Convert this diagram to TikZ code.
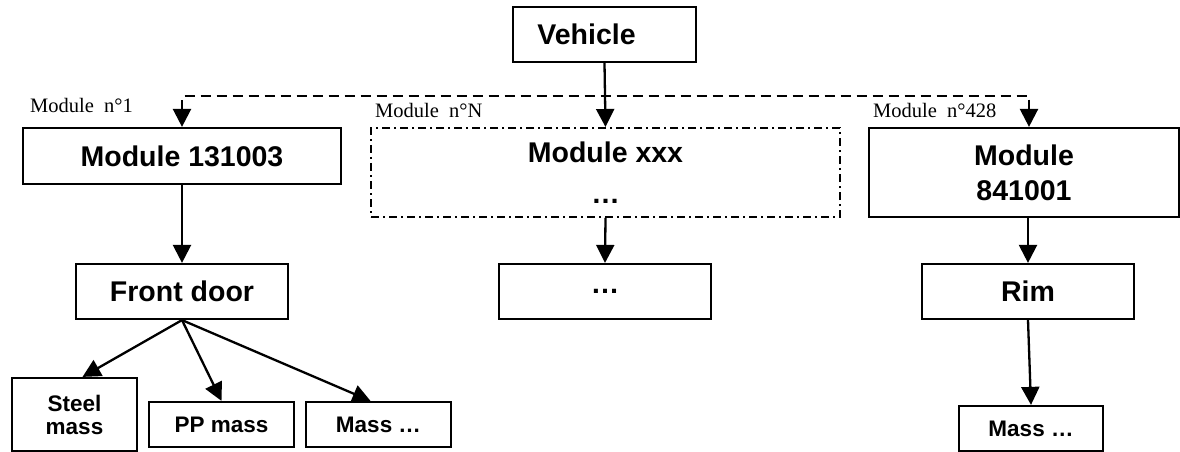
\documentclass[tikz,border=0pt]{standalone}
\usepackage{fontspec}
\setmainfont{Liberation Serif}
\newfontfamily\arialfam{Liberation Sans}
\usetikzlibrary{arrows.meta}

\tikzset{
  box/.style={draw, line width=2.2pt, inner sep=0pt, align=center,
    font=\arialfam\bfseries\fontsize{28.5}{35}\selectfont},
  smallbox/.style={box, font=\arialfam\bfseries\fontsize{22.5}{23}\selectfont},
  dashdotbox/.style={box, line width=2pt, dash pattern=on 8pt off 4pt on 2pt off 4pt},
  tip/.tip={Triangle[length=18pt,width=18pt]},
  link/.style={line width=2.3pt, -tip},
  bus/.style={line width=2.4pt, dash pattern=on 10pt off 6pt, tip-tip},
  tag/.style={anchor=base west, inner sep=0pt, font=\fontsize{20.5}{24}\selectfont}
}

\begin{document}
\begin{tikzpicture}[x=1pt, y=-1pt]
  \useasboundingbox (0,0) rectangle (1180,452);

  % top level
  \node[box, minimum width=183pt, minimum height=55pt] (veh) at (604.5,34.5) {Vehicle\hspace{36pt}};

  % modules
  \node[box, minimum width=318pt, minimum height=56pt] (m1) at (182,156) {Module 131003};
  \node[dashdotbox, minimum width=469pt, minimum height=89pt] (mN) at (605.5,172.5)
    {Module xxx\\[6pt]…};
  \node[box, minimum width=310pt, minimum height=89pt] (m3) at (1024,172.5) {Module\\841001};

  % module labels
  \node[tag] (t1) at (30,112) {Module~~n°1};
  \node[tag] (tN) at (375,117) {Module~~n°N};
  \node[tag] (t3) at (873,117) {Module~~n°428};

  % parts
  \node[box, minimum width=212pt, minimum height=55pt] (fd) at (182,291.5) {Front door};
  \node[box, minimum width=212pt, minimum height=55pt] (dots) at (605,291.5) {…};
  \node[box, minimum width=212pt, minimum height=55pt] (rim) at (1028,291.5) {Rim};

  % masses
  \node[smallbox, minimum width=125pt, minimum height=73pt] (steel) at (74.5,414.5) {Steel\\mass};
  \node[smallbox, minimum width=145pt, minimum height=45pt] (pp) at (221.5,424.5) {PP mass};
  \node[smallbox, minimum width=145pt, minimum height=45pt] (ml) at (378.5,424.5) {Mass …};
  \node[smallbox, minimum width=144pt, minimum height=45pt] (mr) at (1031,428.5) {Mass …};

  % dashed distribution line
  \coordinate (busL) at (182,96);
  \coordinate (busR) at (1029,96);
  \draw[bus] (m1.north) -- (busL) -- (busR) -- (busR |- m3.north);

  % connectors
  \draw[link] (veh.south) -- (mN.north);
  \draw[link] (m1.south) -- (fd.north);
  \draw[link] (mN.south) -- (dots.north);
  \draw[link] (rim.north |- m3.south) -- (rim.north);
  \draw[link] (rim.south) -- (mr.north);
  \draw[link] (fd.south) -- ([xshift=8pt]steel.north);
  \draw[link] (fd.south) -- (pp.north);
  \draw[link] (fd.south) -- ([xshift=-8pt]ml.north);
\end{tikzpicture}
\end{document}
